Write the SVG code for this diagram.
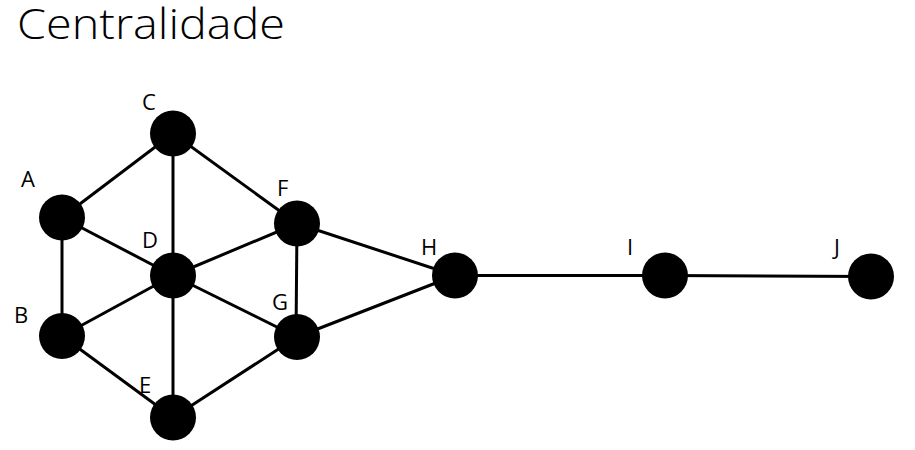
<svg xmlns="http://www.w3.org/2000/svg" width="915" height="450" viewBox="0 0 915 450">
<style>
.e{stroke:#000;stroke-width:3;fill:none}
.n{fill:#000}
.l{font-family:"Open Sans","Liberation Sans",sans-serif;font-size:22px;fill:#000}
.t{font-family:"Open Sans","Liberation Sans",sans-serif;font-size:42px;font-weight:300;fill:#000}
</style>
<rect width="915" height="450" fill="#fff"/>
<text class="t" x="17" y="39" textLength="268" lengthAdjust="spacingAndGlyphs">Centralidade</text>
<g id="edges">
<line class="e" x1="62" y1="217.5" x2="173" y2="133.5"/>
<line class="e" x1="173" y1="133.5" x2="173" y2="275.5"/>
<line class="e" x1="173" y1="133.5" x2="297" y2="223.5"/>
<line class="e" x1="62" y1="217.5" x2="173" y2="275.5"/>
<line class="e" x1="62" y1="217.5" x2="62" y2="336"/>
<line class="e" x1="173" y1="275.5" x2="297" y2="223.5"/>
<line class="e" x1="173" y1="275.5" x2="62" y2="336"/>
<line class="e" x1="173" y1="275.5" x2="297" y2="337"/>
<line class="e" x1="173" y1="275.5" x2="173" y2="417.5"/>
<line class="e" x1="297" y1="223.5" x2="296" y2="337"/>
<line class="e" x1="297" y1="223.5" x2="455" y2="275.5"/>
<line class="e" x1="297" y1="337" x2="455" y2="275.5"/>
<line class="e" x1="62" y1="336" x2="173" y2="417.5"/>
<line class="e" x1="173" y1="417.5" x2="297" y2="337"/>
<line class="e" x1="455" y1="275.5" x2="665" y2="275.5"/>
<line class="e" x1="665" y1="275.5" x2="871" y2="276.5"/>
</g>
<g id="C"><circle class="n" cx="173" cy="133.5" r="23"/><text class="l" x="142" y="110">C</text></g>
<g id="A"><circle class="n" cx="62" cy="217.5" r="23"/><text class="l" x="21" y="187">A</text></g>
<g id="F"><circle class="n" cx="297" cy="223.5" r="23"/><text class="l" x="277" y="196">F</text></g>
<g id="D"><circle class="n" cx="173" cy="275.5" r="23"/><text class="l" x="142" y="248">D</text></g>
<g id="B"><circle class="n" cx="62" cy="336" r="23"/><text class="l" x="14" y="323">B</text></g>
<g id="G"><circle class="n" cx="297" cy="337" r="23"/><text class="l" x="272" y="310">G</text></g>
<g id="E"><circle class="n" cx="173" cy="417.5" r="23"/><text class="l" x="139" y="393">E</text></g>
<g id="H"><circle class="n" cx="455" cy="275.5" r="23"/><text class="l" x="421" y="255">H</text></g>
<g id="I"><circle class="n" cx="665" cy="275.5" r="23"/><text class="l" x="627" y="255">I</text></g>
<g id="J"><circle class="n" cx="871" cy="276.5" r="23"/><text class="l" x="834" y="255">J</text></g>
</svg>
